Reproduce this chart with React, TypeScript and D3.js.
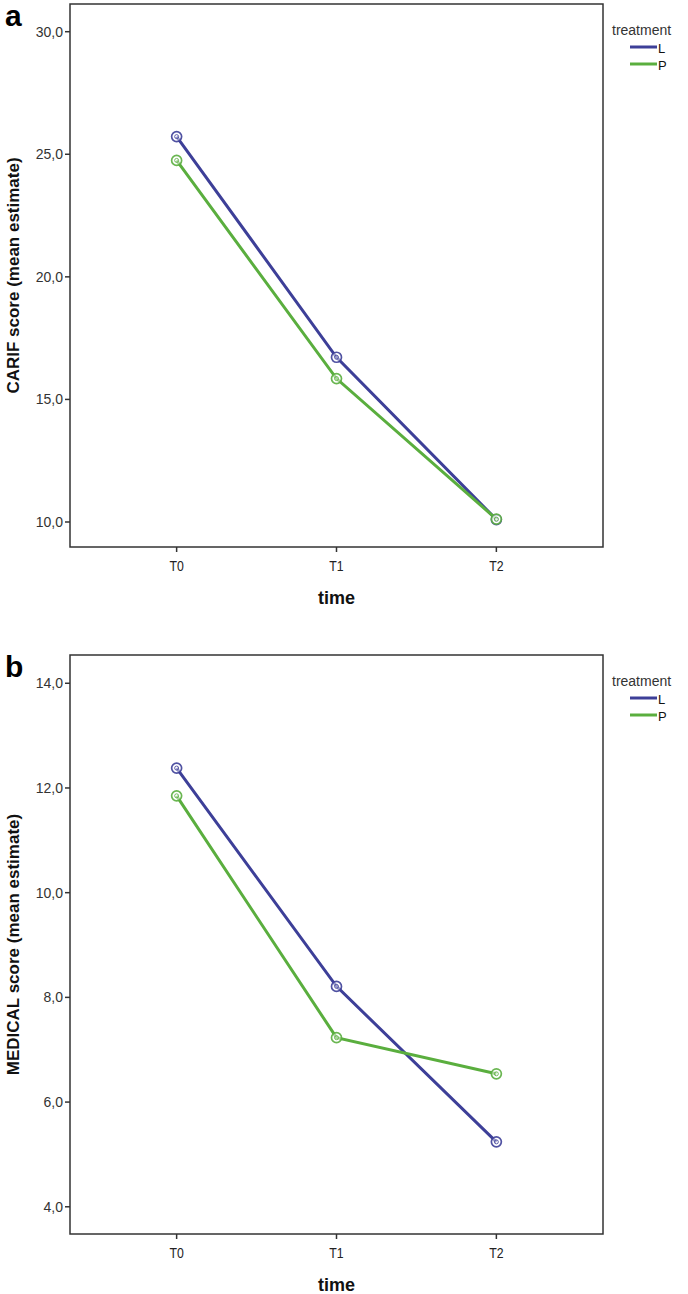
import React, { useEffect, useRef } from 'react'
import * as d3 from 'd3'

const timePoints = ['T0', 'T1', 'T2']
const groups = ['L', 'P']
const groupColors = ['#3d3f98', '#5aae3e']

const carifL = [25.72, 16.72, 10.1]
const carifP = [24.75, 15.85, 10.12]
const carifTicks = [10, 15, 20, 25, 30]

const medicalL = [12.38, 8.21, 5.24]
const medicalP = [11.85, 7.23, 6.54]
const medicalTicks = [4, 6, 8, 10, 12, 14]

const fmt = (v: number) => v.toFixed(1).replace('.', ',')

interface PanelSpec {
  letter: string
  yTitle: string
  series: number[][]
  ticks: number[]
  domain: [number, number]
  top: number
  bottom: number
}

const panels: PanelSpec[] = [
  { letter: 'a', yTitle: 'CARIF score (mean estimate)', series: [carifL, carifP], ticks: carifTicks, domain: [8.98, 31.13], top: 4, bottom: 547 },
  { letter: 'b', yTitle: 'MEDICAL score (mean estimate)', series: [medicalL, medicalP], ticks: medicalTicks, domain: [3.48, 14.54], top: 655, bottom: 1234 }
]

export default function App() {
  const svgRef = useRef<SVGSVGElement>(null)

  useEffect(() => {
    document.body.style.margin = '0'
    if (!svgRef.current) return
    const svg = d3.select(svgRef.current)
    svg.selectAll('*').remove()

    const left = 70
    const right = 603
    const axisColor = '#333'
    const font = '"Liberation Sans", Arial, sans-serif'

    panels.forEach(p => {
      const g = svg.append('g')
      const x = d3.scalePoint<string>().domain(timePoints).range([left, right]).padding(0.667)
      const y = d3.scaleLinear().domain(p.domain).range([p.bottom, p.top])

      // frame
      g.append('rect')
        .attr('x', left).attr('y', p.top)
        .attr('width', right - left).attr('height', p.bottom - p.top)
        .attr('fill', 'none').attr('stroke', axisColor).attr('stroke-width', 1.5)

      // y ticks
      p.ticks.forEach(t => {
        g.append('line')
          .attr('x1', left - 5).attr('x2', left)
          .attr('y1', y(t)).attr('y2', y(t))
          .attr('stroke', axisColor).attr('stroke-width', 1.5)
        g.append('text')
          .attr('x', left - 7).attr('y', y(t))
          .attr('dy', '0.35em').attr('text-anchor', 'end')
          .attr('font-family', font).attr('font-size', 14).attr('fill', '#333')
          .text(fmt(t))
      })

      // x ticks
      timePoints.forEach(tp => {
        const px = x(tp)!
        g.append('line')
          .attr('x1', px).attr('x2', px)
          .attr('y1', p.bottom).attr('y2', p.bottom + 5)
          .attr('stroke', axisColor).attr('stroke-width', 1.5)
        g.append('text')
          .attr('transform', `translate(${px},${p.bottom + 19}) scale(0.82,1)`)
          .attr('dy', '0.35em').attr('text-anchor', 'middle')
          .attr('font-family', font).attr('font-size', 15).attr('fill', '#222')
          .text(tp)
      })

      // axis titles
      g.append('text')
        .attr('x', (left + right) / 2).attr('y', p.bottom + 51)
        .attr('dy', '0.35em').attr('text-anchor', 'middle')
        .attr('font-family', font).attr('font-size', 18).attr('font-weight', 'bold').attr('fill', '#111')
        .text('time')

      g.append('text')
        .attr('transform', `translate(13,${(p.top + p.bottom) / 2}) rotate(-90)`)
        .attr('dy', '0.35em').attr('text-anchor', 'middle')
        .attr('font-family', font).attr('font-size', 17).attr('font-weight', 'bold').attr('fill', '#111')
        .text(p.yTitle)

      // panel letter
      g.append('text')
        .attr('x', 5).attr('y', p.top + 22)
        .attr('font-family', font).attr('font-size', 30).attr('font-weight', 'bold').attr('fill', '#000')
        .text(p.letter)

      // lines + markers
      const line = d3.line<number>()
        .x((_, i) => x(timePoints[i])!)
        .y(d => y(d))

      p.series.forEach((vals, si) => {
        g.append('path')
          .datum(vals)
          .attr('d', line)
          .attr('fill', 'none')
          .attr('stroke', groupColors[si])
          .attr('stroke-width', 3)
      })
      p.series.forEach((vals, si) => {
        vals.forEach((v, i) => {
          g.append('circle')
            .attr('cx', x(timePoints[i])!).attr('cy', y(v)).attr('r', 5)
            .attr('fill', '#fff').attr('fill-opacity', 0.5)
            .attr('stroke', groupColors[si]).attr('stroke-width', 1.7).attr('stroke-opacity', 0.9)
          g.append('circle')
            .attr('cx', x(timePoints[i])!).attr('cy', y(v)).attr('r', 2)
            .attr('fill', 'none')
            .attr('stroke', groupColors[si]).attr('stroke-width', 1).attr('stroke-opacity', 0.8)
        })
      })

      // legend
      g.append('text')
        .attr('x', 612).attr('y', p.top + 26)
        .attr('dy', '0.35em')
        .attr('font-family', font).attr('font-size', 14).attr('fill', '#333')
        .text('treatment')
      groups.forEach((grp, gi) => {
        const ly = p.top + 43 + gi * 17
        g.append('line')
          .attr('x1', 630).attr('x2', 657)
          .attr('y1', ly).attr('y2', ly)
          .attr('stroke', groupColors[gi]).attr('stroke-width', 3)
        g.append('text')
          .attr('x', 658).attr('y', ly + 1)
          .attr('dy', '0.35em')
          .attr('font-family', font).attr('font-size', 13).attr('fill', '#111')
          .text(grp)
      })
    })
  }, [])

  return (
    <svg
      ref={svgRef}
      width={688}
      height={1294}
      style={{ position: 'absolute', left: 0, top: 0, display: 'block', background: '#fff' }}
    />
  )
}
